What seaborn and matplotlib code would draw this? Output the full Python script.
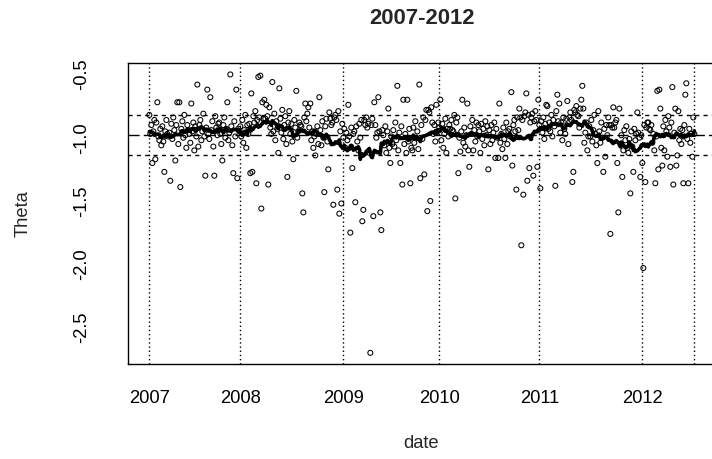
import numpy as np
import pandas as pd
import matplotlib
matplotlib.use('Agg')
import matplotlib.pyplot as plt
import seaborn as sns

# theta readings, one list per year (observation order)
theta_2007 = [
    -0.82, -0.97, -0.90, -1.20, -0.95, -0.86, -1.17, -0.88, -0.72, -0.99,
    -1.02, -0.93, -1.06, -0.91, -1.03, -1.27, -0.95, -0.86, -0.97, -0.99,
    -0.96, -1.34, -0.89, -1.01, -0.84, -0.94, -1.18, -0.90, -0.72, -1.05,
    -0.72, -1.39, -0.93, -0.87, -1.00, -0.82, -0.98, -1.08, -0.90, -0.94,
    -0.97, -1.04, -0.73, -0.95, -0.88, -1.10, -0.91, -0.99, -0.58, -1.07,
    -0.90, -0.86, -1.02, -0.95, -0.81, -0.99, -1.30, -0.92, -0.62, -0.97,
    -1.01, -0.68, -0.94, -0.87, -1.07, -1.30, -0.83, -0.92, -0.98, -0.89,
    -0.88, -0.97, -1.05, -1.18, -0.90, -0.84, -1.00, -0.93, -0.72, -1.02,
    -0.96, -0.50, -0.91, -1.06, -1.28, -0.87, -0.99, -0.62, -1.32, -0.93,
    -0.95,
]
theta_2008 = [
    -0.91, -0.99, -0.86, -1.04, -0.94, -0.82, -1.08, -0.90, -0.97, -0.89,
    -1.28, -0.65, -1.27, -0.83, -0.88, -0.79, -1.36, -0.86, -0.52, -0.84,
    -0.51, -1.56, -0.72, -0.85, -0.70, -0.85, -0.74, -0.83, -1.37, -0.76,
    -0.92, -0.97, -0.56, -0.95, -0.81, -1.02, -0.87, -0.93, -1.12, -0.61,
    -0.85, -0.96, -0.78, -1.01, -0.90, -0.83, -1.05, -1.31, -0.88, -0.79,
    -0.97, -0.89, -1.03, -1.17, -0.86, -0.92, -0.63, -1.00, -0.95, -0.88,
    -0.90, -0.91, -1.44, -1.59, -0.84, -0.73, -0.87, -0.81, -0.76, -0.92,
    -0.73, -1.02, -0.95, -1.08, -0.99, -1.14, -0.97, -0.91, -1.05, -0.68,
    -0.94, -1.06, -0.87, -1.00, -1.43, -0.91, -0.85, -1.03, -1.25, -0.80,
    -0.85, -0.90, -0.88, -1.53, -0.84, -0.82, -0.86, -1.41, -0.79, -1.60,
    -0.95, -1.52, -0.89,
]
theta_2009 = [
    -1.00, -0.93, -1.08, -0.96, -1.02, -0.74, -0.99, -1.75, -0.92, -1.24,
    -0.97, -0.95, -1.51, -0.91, -1.03, -1.10, -0.89, -1.00, -0.86, -1.66,
    -1.57, -0.86, -0.90, -0.84, -0.92, -0.89, -1.12, -2.70, -0.90, -0.85,
    -1.62, -0.72, -0.90, -1.00, -0.96, -0.68, -0.95, -1.59, -1.73, -0.94,
    -0.98, -1.06, -0.91, -1.12, -0.95, -0.77, -1.08, -1.20, -0.99, -1.05,
    -0.94, -1.07, -0.88, -1.02, -0.59, -1.10, -0.96, -1.20, -0.91, -1.37,
    -0.70, -1.05, -0.97, -1.12, -0.70, -1.03, -0.93, -1.36, -1.08, -1.10,
    -0.92, -1.04, -0.87, -1.00, -0.95, -1.09, -0.58, -1.32, -0.90, -1.01,
    -0.84, -1.29, -0.86, -0.78, -1.58, -0.78, -0.80, -1.50, -0.76, -0.88,
    -0.97, -0.90, -1.03, -0.74, -0.95, -0.88,
]
theta_2010 = [
    -0.92, -0.70, -1.02, -0.89, -1.08, -0.97, -0.85, -1.12, -0.93, -0.99,
    -0.90, -0.93, -0.86, -0.94, -0.95, -0.82, -1.48, -0.88, -0.84, -1.28,
    -1.00, -1.11, -0.95, -0.70, -1.04, -0.92, -1.07, -0.98, -0.73, -1.10,
    -1.23, -0.91, -0.97, -0.86, -1.10, -0.94, -1.03, -0.88, -0.99, -0.90,
    -0.95, -1.12, -0.89, -1.01, -0.93, -1.06, -0.87, -0.98, -0.91, -1.25,
    -0.94, -1.05, -0.90, -1.02, -0.96, -0.88, -1.16, -0.93, -1.00, -1.16,
    -0.73, -1.04, -0.97, -1.09, -0.92, -1.01, -1.16, -0.88, -1.05, -0.95,
    -0.93, -0.99, -0.64, -1.22, -0.90, -0.86, -0.95, -1.41, -0.84, -0.94,
    -0.77, -0.84, -1.85, -0.86, -1.45, -0.83, -0.80, -0.65, -1.34, -0.82,
    -1.24, -0.88, -0.84, -0.81, -1.30, -0.87, -0.79, -0.86, -1.23, -0.70,
]
theta_2011 = [
    -0.90, -1.40, -0.87, -0.96, -0.84, -1.01, -0.89, -0.74, -0.75, -0.93,
    -0.88, -0.95, -0.82, -0.99, -0.86, -0.91, -1.38, -0.79, -0.66, -0.87,
    -0.73, -0.96, -0.88, -1.02, -0.84, -0.93, -0.97, -0.85, -0.71, -1.05,
    -0.84, -0.80, -0.86, -1.35, -1.27, -0.78, -0.80, -0.75, -0.82, -0.83,
    -0.92, -0.77, -0.70, -0.59, -0.77, -1.04, -0.96, -0.88, -1.10, -0.99,
    -0.91, -0.99, -0.86, -1.03, -0.94, -0.82, -0.97, -1.06, -1.20, -0.79,
    -0.95, -1.04, -0.88, -1.00, -1.27, -0.93, -1.15, -0.90, -0.98, -0.84,
    -0.90, -1.76, -0.90, -0.92, -0.76, -0.92, -0.88, -0.86, -1.20, -1.59,
    -0.77, -1.05, -0.98, -1.31, -1.10, -0.94, -1.02, -0.91, -1.08, -1.12,
    -1.01, -1.44, -0.95, -1.07, -1.27, -0.93, -1.02, -0.97, -0.80, -0.96,
    -1.00, -1.31, -0.98,
]
theta_2012 = [
    -1.20, -2.03, -0.90, -1.35, -0.92, -0.88, -0.88, -0.93, -0.94, -0.90,
    -1.04, -0.97, -1.10, -1.36, -0.99, -0.63, -1.25, -0.62, -0.77, -1.08,
    -1.22, -0.91, -1.10, -0.86, -0.95, -1.15, -0.83, -0.92, -1.23, -0.88,
    -0.60, -1.37, -0.96, -0.77, -1.22, -1.14, -0.79, -1.02, -0.93, -1.05,
    -0.94, -1.36, -0.90, -0.66, -0.57, -1.01, -1.36, -0.93, -1.04, -0.97,
    -1.15, -0.84, -0.97,
]

years = ['2007', '2008', '2009', '2010', '2011', '2012']
theta_by_year = [theta_2007, theta_2008, theta_2009, theta_2010, theta_2011, theta_2012]

# reference lines: mean +/- one sd
ref_upper = -0.82
ref_mean = -0.98
ref_lower = -1.14

yticks = [-2.5, -2.0, -1.5, -1.0, -0.5]

rows = []
for yr, vals in zip(years, theta_by_year):
    for v in vals:
        rows.append((yr, v))
df = pd.DataFrame(rows, columns=['year', 'theta'])
df['obs'] = np.arange(len(df))
df['smooth'] = df['theta'].rolling(21, center=True, min_periods=1).mean()

tick_pos = [df.index[df['year'] == y][0] for y in years] + [len(df) - 1]
tick_lab = years + ['']

sns.set_style('white')
plt.rcParams['font.family'] = ['Liberation Sans', 'DejaVu Sans']

fig = plt.figure(figsize=(7.12, 4.59), dpi=100)
ax = fig.add_axes([0.1791, 0.2070, 0.8267, 0.6551])

sns.scatterplot(data=df, x='obs', y='theta', ax=ax, marker='o', s=13,
                facecolors='none', edgecolor='black', linewidth=0.75, zorder=3)
sns.lineplot(data=df, x='obs', y='smooth', ax=ax, color='black', lw=2.6, zorder=4)

for p in tick_pos:
    ax.axvline(p, color='black', ls=(0, (1, 2)), lw=1, zorder=2)
ax.axhline(ref_upper, color='black', ls=(0, (3, 3)), lw=1, zorder=2)
ax.axhline(ref_lower, color='black', ls=(0, (3, 3)), lw=1, zorder=2)
ax.axhline(ref_mean, color='black', ls=(0, (8, 3)), lw=1, zorder=2)

n = len(df) - 1
ax.set_xlim(-0.04 * n, n * 1.04)
lo, hi = df['theta'].min(), df['theta'].max()
span = hi - lo
ax.set_ylim(lo - 0.04 * span, hi + 0.04 * span)

ax.set_xticks(tick_pos)
ax.set_xticklabels(tick_lab)
ax.set_yticks(yticks)
ax.set_yticklabels([f'{v:.1f}' for v in yticks])
ax.set_xlabel('')
ax.set_ylabel('')

for s in ax.spines.values():
    s.set_visible(True)
    s.set_color('black')
    s.set_linewidth(1)

ax.tick_params(axis='both', direction='out', length=8, width=0.9, colors='black',
               labelsize=13.2)
ax.tick_params(axis='x', pad=11)
ax.tick_params(axis='y', pad=19)
plt.setp(ax.get_yticklabels(), rotation=90, va='center')

fig.text(421.5 / 712, 1 - 18 / 459, '2007-2012', ha='center', va='center',
         fontsize=15.8, fontweight='bold')
fig.text(421.5 / 712, 1 - 444 / 459, 'date', ha='center', va='center', fontsize=13.2)
fig.text(23 / 712, 1 - 213.5 / 459, 'Theta', ha='center', va='center',
         rotation=90, fontsize=13.2)

fig.savefig('out.png', dpi=100)
